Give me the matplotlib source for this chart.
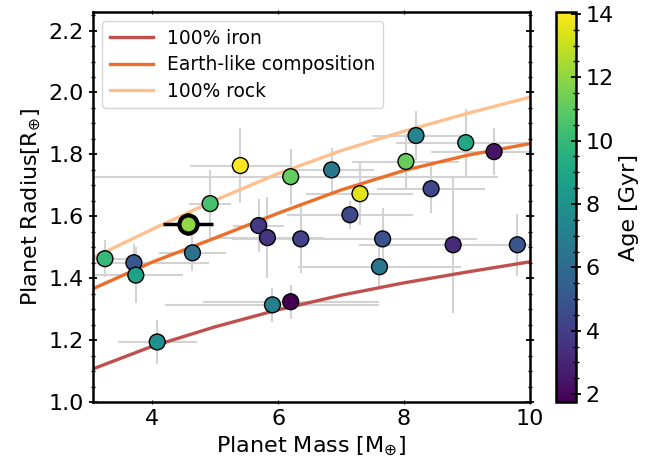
"""Mass-radius diagram of small planets coloured by stellar age."""

import numpy as np
import matplotlib
matplotlib.use("Agg")
import matplotlib.pyplot as plt
from matplotlib.ticker import MultipleLocator

# composition curves (mass in Earth masses, radius in Earth radii)
curve_mass = [3.06, 4.0, 5.0, 6.0, 7.0, 8.0, 9.0, 10.0]
iron_radius = [1.107, 1.180, 1.243, 1.298, 1.345, 1.385, 1.420, 1.453]
earth_radius = [1.366, 1.452, 1.530, 1.610, 1.685, 1.748, 1.797, 1.835]
rock_radius = [1.466, 1.558, 1.652, 1.738, 1.812, 1.875, 1.932, 1.985]

# planet sample
mass = [3.25, 3.71, 3.74, 4.08, 4.64, 4.92, 5.40, 5.69, 5.83, 5.91, 6.20, 6.20,
        6.36, 6.85, 7.14, 7.30, 7.66, 7.61, 8.03, 8.19, 8.43, 8.78, 8.98, 9.43, 9.80]
mass_err = [0.35, 1.20, 0.75, 0.63, 0.53, 0.33, 0.80, 0.40, 0.90, 1.70, 1.40, 3.30,
            1.10, 0.67, 1.00, 0.85, 1.50, 1.30, 0.85, 0.70, 0.86, 1.50, 1.10, 1.00, 1.30]
radius = [1.463, 1.450, 1.410, 1.194, 1.482, 1.641, 1.764, 1.570, 1.531, 1.314, 1.324,
          1.728, 1.527, 1.750, 1.605, 1.673, 1.527, 1.437, 1.777, 1.861, 1.689, 1.508,
          1.838, 1.809, 1.508]
radius_err = [0.060, 0.060, 0.090, 0.070, 0.060, 0.110, 0.120, 0.085, 0.130, 0.055, 0.055,
              0.090, 0.110, 0.070, 0.045, 0.100, 0.100, 0.070, 0.090, 0.078, 0.077, 0.220,
              0.110, 0.075, 0.100]
age = [10.0, 5.1, 8.8, 7.9, 6.3, 10.5, 14.06, 3.8, 3.6, 7.0, 1.75, 11.1,
       4.2, 6.7, 4.5, 13.5, 4.8, 6.6, 11.2, 7.3, 4.4, 3.2, 9.1, 2.4, 5.0]

# the highlighted planet
target_mass, target_mass_err = 4.57, 0.40
target_radius, target_radius_err = 1.576, 0.035
target_age = 12.0

fig = plt.figure(figsize=(6.71, 4.66), dpi=100)
ax = fig.add_axes([0.1386, 0.1373, 0.6512, 0.8369])
cax = fig.add_axes([0.829, 0.1373, 0.029, 0.8369])

ax.errorbar(mass, radius, xerr=mass_err, yerr=radius_err, fmt="none",
            ecolor="lightgrey", elinewidth=1.5, capsize=0, zorder=1)

ax.plot(curve_mass, iron_radius, color="#c0504d", lw=2.4, label="100% iron", zorder=2)
ax.plot(curve_mass, earth_radius, color="#eb6f2b", lw=2.4,
        label="Earth-like composition", zorder=2)
ax.plot(curve_mass, rock_radius, color="#fdc08e", lw=2.4, label="100% rock", zorder=2)

vmin, vmax = min(age), max(age)
sc = ax.scatter(mass, radius, c=age, cmap="viridis", vmin=vmin, vmax=vmax,
                s=130, edgecolors="black", linewidths=1.0, zorder=3)

ax.errorbar(target_mass, target_radius, xerr=target_mass_err, yerr=target_radius_err,
            fmt="none", ecolor="black", elinewidth=2.5, capsize=0, zorder=4)
ax.scatter([target_mass], [target_radius], c=[target_age], cmap="viridis",
           vmin=vmin, vmax=vmax, s=170, edgecolors="black", linewidths=3, zorder=5)

ax.set_xlim(3.06, 10.0)
ax.set_ylim(1.0, 2.26)
ax.yaxis.set_major_locator(MultipleLocator(0.2))
ax.yaxis.set_minor_locator(MultipleLocator(0.05))
ax.xaxis.set_major_locator(MultipleLocator(2))

for side in ax.spines.values():
    side.set_linewidth(1.8)
ax.tick_params(axis="y", which="major", direction="inout", length=6, width=1.3,
               left=True, right=True, labelsize=16)
ax.tick_params(axis="y", which="minor", direction="inout", length=3.5, width=1.0,
               left=True, right=True)
ax.tick_params(axis="x", which="major", direction="inout", length=3, width=0.8,
               top=True, bottom=True, labelsize=16)

ax.set_xlabel(r"Planet Mass [M$_{\oplus}$]", fontsize=16)
ax.set_ylabel(r"Planet Radius[R$_{\oplus}$]", fontsize=16)

ax.legend(loc="upper left", fontsize=13.4, handlelength=2.3, labelspacing=0.4,
          borderaxespad=0.5)

cb = fig.colorbar(sc, cax=cax)
cb.set_label("Age [Gyr]", fontsize=16)
cb.set_ticks(np.arange(2, 15, 2))
cb.ax.yaxis.set_minor_locator(MultipleLocator(0.5))
cb.ax.tick_params(which="major", direction="inout", length=7, width=1.3, labelsize=16)
cb.ax.tick_params(which="minor", direction="inout", length=4, width=1.0)
cb.outline.set_linewidth(1.8)

fig.savefig("out.png", dpi=100)
